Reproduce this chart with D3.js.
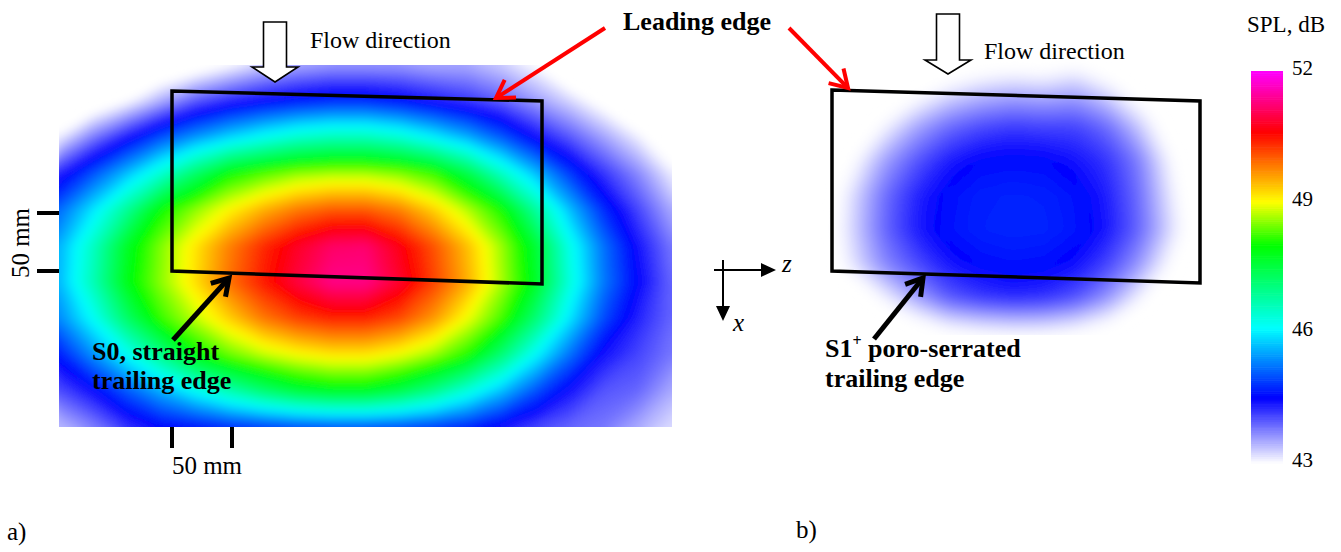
<!DOCTYPE html>
<html>
<head>
<meta charset="utf-8">
<script src="https://cdn.jsdelivr.net/npm/d3@7"></script>
<style>
  body { margin: 0; background: #fff; }
  svg { display: block; font-family: "Liberation Serif", "Times New Roman", serif; }
</style>
</head>
<body>
<svg id="fig" width="1341" height="552"></svg>
<script>
// SPL maps (dB), rows top -> bottom, columns left -> right
// a) S0 straight trailing edge
const splA = [
  [42.0, 42.0, 42.3, 42.5, 42.7, 43.0, 43.3, 43.5, 43.6, 43.6, 43.6, 43.5, 43.5, 43.3, 43.0, 42.5, 42.2, 42.0, 41.8],
  [42.3, 42.6, 43.0, 43.5, 44.0, 44.3, 44.5, 44.65, 44.75, 44.75, 44.6, 44.4, 44.2, 43.95, 43.6, 43.25, 42.85, 42.5, 42.2],
  [43.1, 43.8, 44.4, 45.0, 45.45, 45.85, 46.2, 46.5, 46.65, 46.65, 46.45, 46.05, 45.6, 45.05, 44.45, 44.0, 43.55, 43.1, 42.7],
  [44.3, 45.0, 45.7, 46.45, 47.25, 48.0, 48.3, 48.55, 48.65, 48.65, 48.5, 48.2, 47.5, 46.55, 45.7, 44.85, 44.2, 43.7, 43.1],
  [45.15, 45.95, 46.9, 48.0, 48.55, 49.05, 49.5, 49.85, 50.05, 50.05, 49.8, 49.3, 48.7, 48.05, 46.85, 45.7, 44.75, 44.1, 43.5],
  [45.6, 46.55, 47.75, 48.5, 49.15, 49.8, 50.35, 50.8, 51.15, 51.2, 50.7, 50.1, 49.4, 48.6, 47.65, 46.25, 45.2, 44.4, 43.8],
  [45.65, 46.65, 47.85, 48.55, 49.2, 49.9, 50.45, 50.95, 51.35, 51.35, 50.85, 50.2, 49.5, 48.65, 47.75, 46.35, 45.25, 44.5, 43.9],
  [45.35, 46.15, 47.25, 48.2, 48.75, 49.3, 49.85, 50.2, 50.4, 50.4, 50.15, 49.65, 48.95, 48.25, 47.15, 45.95, 44.95, 44.3, 43.9],
  [44.65, 45.4, 46.15, 47.0, 47.9, 48.4, 48.75, 49.0, 49.15, 49.15, 48.95, 48.6, 48.1, 47.15, 46.1, 45.2, 44.4, 44.1, 43.8],
  [44.05, 44.45, 45.05, 45.6, 46.15, 46.7, 47.2, 47.6, 47.8, 47.8, 47.5, 47.0, 46.35, 45.7, 45.0, 44.4, 44.0, 43.9, 43.5],
  [43.4, 43.75, 44.2, 44.5, 44.6, 44.75, 44.85, 44.95, 45.0, 45.0, 44.95, 44.85, 44.7, 44.4, 44.1, 43.9, 43.8, 43.5, 43.2]
];
// b) S1+ poro-serrated trailing edge
const splB = [
  [41.5, 41.7, 41.9, 42.15, 42.35, 42.5, 42.55, 42.5, 42.7, 42.45, 41.9, 41.6, 41.5],
  [41.8, 42.05, 42.45, 42.75, 43.1, 43.3, 43.4, 43.35, 43.45, 43.15, 42.7, 42.05, 41.7],
  [42.05, 42.55, 43.0, 43.5, 43.85, 44.05, 44.15, 44.1, 44.1, 43.85, 43.3, 42.6, 42.0],
  [42.4, 42.9, 43.55, 44.0, 44.35, 44.53, 44.56, 44.54, 44.4, 44.2, 43.75, 42.95, 42.3],
  [42.55, 43.2, 43.85, 44.3, 44.56, 44.68, 44.71, 44.69, 44.59, 44.33, 43.85, 43.1, 42.45],
  [42.6, 43.25, 43.9, 44.35, 44.59, 44.7, 44.74, 44.72, 44.62, 44.38, 43.9, 43.2, 42.5],
  [42.6, 43.15, 43.7, 44.05, 44.38, 44.54, 44.59, 44.56, 44.43, 44.1, 43.6, 42.9, 42.3],
  [42.0, 42.4, 43.0, 43.5, 43.95, 44.15, 44.25, 44.2, 44.0, 43.6, 43.0, 42.35, 41.9],
  [41.5, 41.8, 42.2, 42.5, 42.75, 42.85, 42.9, 42.9, 42.8, 42.6, 42.3, 41.9, 41.5]
];
const splDomain = [43, 52];
const cbarTicks = [52, 49, 46, 43];
const cmapLevels = [43, 44.5, 46.1, 48, 49, 50.6, 52];
const cmapColors = ["#ffffff", "#0000ff", "#00ffff", "#00ff00", "#ffff00", "#ff0000", "#ff00ff"];

const svg = d3.select("#fig");
const color = d3.scaleLinear().domain(cmapLevels).range(cmapColors).clamp(true);
const step = 0.05;
const thresholds = d3.range(splDomain[0], splDomain[1] + 1e-6, step);

// soften the facets of the linear contours a little
const defs = svg.append("defs");
[["softA", 5], ["softB", 8]].forEach(([id, sd]) => {
  defs.append("filter")
    .attr("id", id)
    .attr("x", "-10%").attr("y", "-10%").attr("width", "120%").attr("height", "120%")
    .append("feGaussianBlur").attr("stdDeviation", sd);
});

// contour-filled source map, grid samples spread over box
function drawMap(grid, box, clipId, filterId) {
  const ny = grid.length, nx = grid[0].length;
  const x = d3.scaleLinear().domain([0.5, nx - 0.5]).range([box.x0, box.x1]);
  const y = d3.scaleLinear().domain([0.5, ny - 0.5]).range([box.y0, box.y1]);
  const path = d3.geoPath(d3.geoTransform({
    point(px, py) { this.stream.point(x(px), y(py)); }
  }));
  const bands = d3.contours().size([nx, ny]).thresholds(thresholds)(grid.flat());

  svg.append("clipPath").attr("id", clipId)
    .append("rect")
    .attr("x", box.x0).attr("y", box.y0)
    .attr("width", box.x1 - box.x0).attr("height", box.y1 - box.y0);

  svg.append("g")
    .attr("clip-path", `url(#${clipId})`)
    .append("g")
    .attr("filter", `url(#${filterId})`)
    .selectAll("path")
    .data(bands)
    .join("path")
    .attr("d", path)
    .attr("fill", d => color(d.value + step / 2))
    .attr("stroke", "none");
}

drawMap(splA, {x0: 59, x1: 672, y0: 65, y1: 427}, "clipA", "softA");
drawMap(splB, {x0: 820, x1: 1204, y0: 55, y1: 335}, "clipB", "softB");

// trailing/leading edge outlines
const ann = svg.append("g");
function outline(pts) {
  ann.append("path")
    .attr("d", "M" + pts.join("L") + "Z")
    .attr("fill", "none")
    .attr("stroke", "#000")
    .attr("stroke-width", 3.5)
    .attr("stroke-linejoin", "miter");
}
outline([[172, 91], [542, 101], [542, 284], [172, 271]]);
outline([[832, 90], [1200, 101], [1200, 283], [832, 271]]);

// arrows with open V heads
function vArrow(x1, y1, x2, y2, col, w, head) {
  const a = Math.atan2(y2 - y1, x2 - x1);
  const s = 0.55;
  const p1 = [x2 - head * Math.cos(a - s), y2 - head * Math.sin(a - s)];
  const p2 = [x2 - head * Math.cos(a + s), y2 - head * Math.sin(a + s)];
  ann.append("line")
    .attr("x1", x1).attr("y1", y1)
    .attr("x2", x2 - 2 * Math.cos(a)).attr("y2", y2 - 2 * Math.sin(a))
    .attr("stroke", col).attr("stroke-width", w);
  ann.append("path")
    .attr("d", `M${p1}L${x2},${y2}L${p2}`)
    .attr("fill", "none").attr("stroke", col).attr("stroke-width", w)
    .attr("stroke-linejoin", "miter");
}
vArrow(605, 28, 496, 98, "#ff0000", 4, 20);
vArrow(789, 28, 848, 88, "#ff0000", 4, 20);
vArrow(173, 340, 229, 278, "#000", 5, 19);
vArrow(874, 339, 923, 278, "#000", 5, 19);

// hollow flow-direction arrows
function flowArrow(cx, top, neck, tip, shaftHalf, headHalf) {
  const pts = [
    [cx - shaftHalf, top], [cx + shaftHalf, top], [cx + shaftHalf, neck],
    [cx + headHalf, neck], [cx, tip], [cx - headHalf, neck], [cx - shaftHalf, neck]
  ];
  ann.append("path")
    .attr("d", "M" + pts.join("L") + "Z")
    .attr("fill", "#fff").attr("stroke", "#000").attr("stroke-width", 1.6);
}
flowArrow(275, 22, 67, 82, 11.5, 23);
flowArrow(948, 14, 60, 74, 11.5, 23);

function label(x, y, txt, size, weight, anchor) {
  return ann.append("text")
    .attr("x", x).attr("y", y)
    .attr("font-size", size)
    .attr("font-weight", weight || "normal")
    .attr("text-anchor", anchor || "start")
    .attr("fill", "#000")
    .text(txt);
}
label(310, 48, "Flow direction", 24);
label(984, 59, "Flow direction", 24);
label(623, 30, "Leading edge", 26, "bold");
label(92, 360, "S0, straight", 26, "bold");
label(92, 389, "trailing edge", 26, "bold");
const s1 = label(825, 357, "S1", 26, "bold");
s1.append("tspan").attr("font-size", 16).attr("dy", -11).text("+");
s1.append("tspan").attr("dy", 11).text(" poro-serrated");
label(825, 387, "trailing edge", 26, "bold");
label(7, 540, "a)", 25);
label(796, 538, "b)", 25);

// 50 mm scale marks
[213, 271].forEach(yy => {
  ann.append("line").attr("x1", 37).attr("x2", 59).attr("y1", yy).attr("y2", yy)
    .attr("stroke", "#000").attr("stroke-width", 4);
});
[172, 232].forEach(xx => {
  ann.append("line").attr("x1", xx).attr("x2", xx).attr("y1", 427).attr("y2", 448)
    .attr("stroke", "#000").attr("stroke-width", 4);
});
label(0, 0, "50 mm", 25, "normal", "middle").attr("transform", "translate(29,243) rotate(-90)");
label(207, 474, "50 mm", 25, "normal", "middle");

// z/x axis glyph
function solidArrow(x1, y1, x2, y2) {
  const a = Math.atan2(y2 - y1, x2 - x1), L = 15, h = 7;
  ann.append("line").attr("x1", x1).attr("y1", y1)
    .attr("x2", x2 - L * Math.cos(a)).attr("y2", y2 - L * Math.sin(a))
    .attr("stroke", "#000").attr("stroke-width", 2);
  const bx = x2 - L * Math.cos(a), by = y2 - L * Math.sin(a);
  ann.append("path")
    .attr("d", `M${x2},${y2}L${bx - h * Math.sin(a)},${by + h * Math.cos(a)}L${bx + h * Math.sin(a)},${by - h * Math.cos(a)}Z`)
    .attr("fill", "#000");
}
solidArrow(714, 270, 776, 270);
solidArrow(723, 260, 723, 321);
label(782, 272, "z", 25).attr("font-style", "italic");
label(733, 331, "x", 25).attr("font-style", "italic");

// colour bar
const cbX = 1251, cbW = 32;
const yC = d3.scaleLinear().domain(splDomain).range([463, 71]);
const cb = svg.append("g");
cb.selectAll("rect")
  .data(thresholds.slice(0, -1))
  .join("rect")
  .attr("x", cbX)
  .attr("width", cbW)
  .attr("y", d => yC(d + step))
  .attr("height", d => yC(d) - yC(d + step) + 0.6)
  .attr("fill", d => color(d + step / 2));
cb.selectAll("text")
  .data(cbarTicks)
  .join("text")
  .attr("x", 1292)
  .attr("y", d => yC(d) + 4)
  .attr("font-size", 21)
  .text(d => d);
label(1247, 32, "SPL, dB", 23);
</script>
</body>
</html>
